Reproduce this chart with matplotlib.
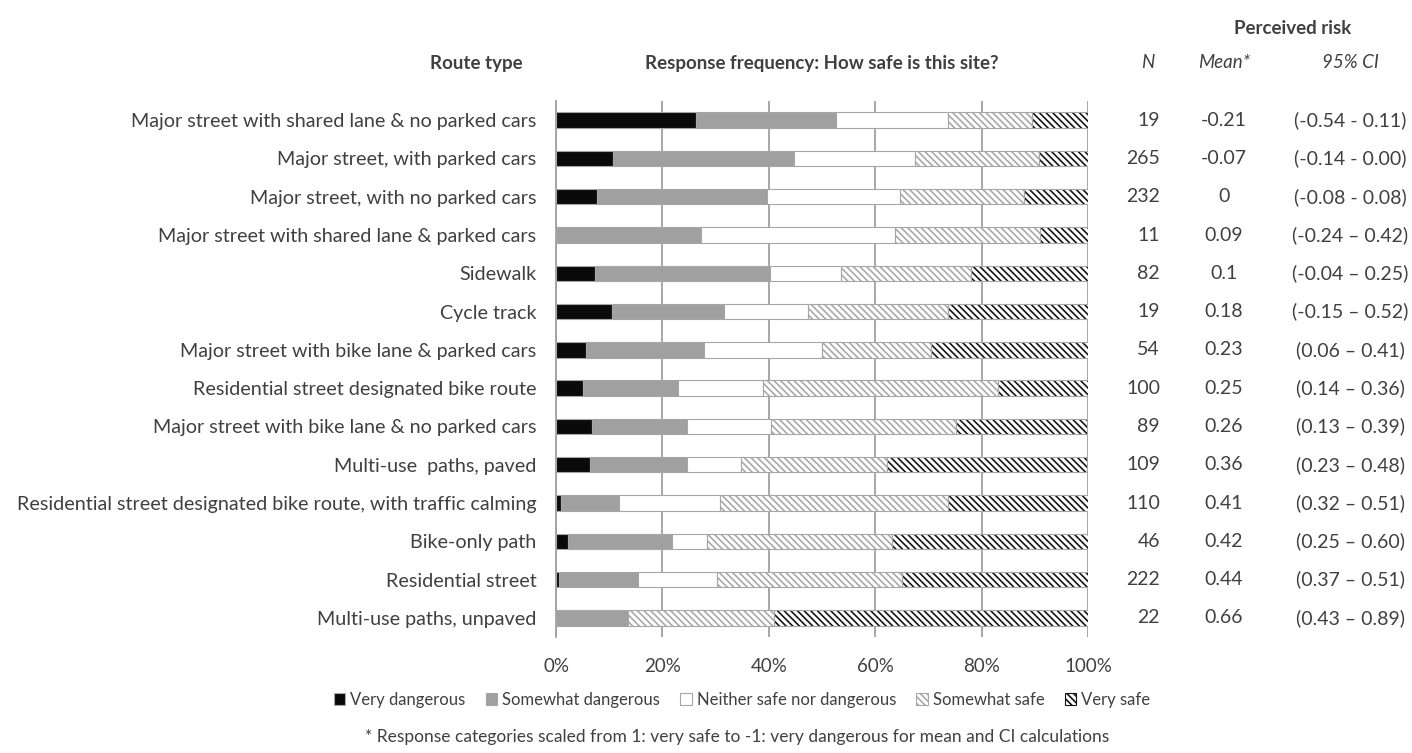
import matplotlib
matplotlib.use("Agg")
import matplotlib.pyplot as plt
import matplotlib.transforms as mtransforms
import numpy as np

plt.rcParams["font.family"] = ["Lato", "DejaVu Sans"]
plt.rcParams["hatch.linewidth"] = 1.2

# Route types, top to bottom
routes = [
    "Major street with shared lane & no parked cars",
    "Major street, with parked cars",
    "Major street, with no parked cars",
    "Major street with shared lane & parked cars",
    "Sidewalk",
    "Cycle track",
    "Major street with bike lane & parked cars",
    "Residential street designated bike route",
    "Major street with bike lane & no parked cars",
    "Multi-use  paths, paved",
    "Residential street designated bike route, with traffic calming",
    "Bike-only path",
    "Residential street",
    "Multi-use paths, unpaved",
]

# Response shares (%) per route
very_dangerous = [26.3, 10.8, 7.8, 0.0, 7.3, 10.5, 5.6, 5.0, 6.7, 6.4, 0.9, 2.2, 0.5, 0.0]
somewhat_dangerous = [26.3, 33.9, 31.9, 27.3, 32.9, 21.1, 22.2, 18.0, 18.0, 18.3, 10.9, 19.6, 14.9, 13.6]
neither = [21.1, 22.8, 25.0, 36.4, 13.4, 15.8, 22.2, 16.0, 15.7, 10.1, 19.1, 6.5, 14.9, 0.0]
somewhat_safe = [15.8, 23.2, 23.2, 27.3, 24.4, 26.3, 20.4, 44.0, 34.8, 27.5, 42.7, 34.8, 34.7, 27.3]
very_safe = [10.5, 9.3, 12.1, 9.1, 22.0, 26.3, 29.6, 17.0, 24.7, 37.6, 26.4, 37.0, 35.1, 59.1]

n_obs = ["19", "265", "232", "11", "82", "19", "54", "100", "89", "109", "110", "46", "222", "22"]
means = ["-0.21", "-0.07", "0", "0.09", "0.1", "0.18", "0.23", "0.25", "0.26", "0.36", "0.41", "0.42", "0.44", "0.66"]
ci = ["(-0.54 - 0.11)", "(-0.14 - 0.00)", "(-0.08 - 0.08)", "(-0.24 \u2013 0.42)", "(-0.04 \u2013 0.25)",
      "(-0.15 \u2013 0.52)", "(0.06 \u2013 0.41)", "(0.14 \u2013 0.36)", "(0.13 \u2013 0.39)", "(0.23 \u2013 0.48)",
      "(0.32 \u2013 0.51)", "(0.25 \u2013 0.60)", "(0.37 \u2013 0.51)", "(0.43 \u2013 0.89)"]

series = [
    ("Very dangerous", very_dangerous, "#0a0a0a", None, None),
    ("Somewhat dangerous", somewhat_dangerous, "#a0a0a0", None, None),
    ("Neither safe nor dangerous", neither, "white", None, None),
    ("Somewhat safe", somewhat_safe, "white", "\\\\\\\\\\", "#a8a8a8"),
    ("Very safe", very_safe, "white", "\\\\\\\\\\", "#151515"),
]

TEXT = "#404040"
EDGE = "#a6a6a6"
W, H = 1412, 753

fig = plt.figure(figsize=(14.12, 7.53), dpi=100)
ax = fig.add_axes([556 / W, 1 - 637 / H, 532 / W, 536 / H])

y = np.arange(len(routes))
left = np.zeros(len(routes))
bar_h = 0.4
for label, vals, color, hatch, hcolor in series:
    vals = np.array(vals)
    if hatch:
        # hatch takes the edge colour, so the outline is drawn on top separately
        ax.barh(y, vals, left=left, height=bar_h, color=color, hatch=hatch,
                edgecolor=hcolor, linewidth=0, zorder=3)
        ax.barh(y, vals, left=left, height=bar_h, fill=False,
                edgecolor=EDGE, linewidth=0.8, zorder=4)
        ax.bar(0, 0, color=color, hatch=hatch, edgecolor=hcolor, linewidth=0.8, label=label)
    else:
        ax.barh(y, vals, left=left, height=bar_h, color=color,
                edgecolor=EDGE, linewidth=0.8, zorder=3, label=label)
    left += vals

ax.set_xlim(0, 100)
ax.set_ylim(len(routes) - 0.5, -0.5)
ax.set_xticks([0, 20, 40, 60, 80, 100])
ax.set_xticklabels(["0%", "20%", "40%", "60%", "80%", "100%"])
ax.set_yticks(y)
ax.set_yticklabels(routes)
ax.tick_params(axis="both", length=0, labelcolor=TEXT)
ax.tick_params(axis="y", pad=14, labelsize=14.2)
ax.tick_params(axis="x", pad=15, labelsize=13.5)
ax.grid(axis="x", color="#a0a0a0", linewidth=1.3, zorder=0)
ax.set_axisbelow(True)
for side in ["top", "right", "bottom"]:
    ax.spines[side].set_visible(False)
ax.spines["left"].set_color("#a0a0a0")
ax.spines["left"].set_linewidth(1.3)


def ftext(x, yy, s, **kw):
    fig.text(x / W, 1 - yy / H, s, color=TEXT, va="center", **kw)


# Column headers
ftext(1293, 28, "Perceived risk", ha="center", fontsize=13.5, fontweight="bold")
ftext(523, 63, "Route type", ha="right", fontsize=13.5, fontweight="bold")
ftext(822, 63, "Response frequency: How safe is this site?", ha="center", fontsize=13.5, fontweight="bold")
ftext(1148, 63, "N", ha="center", fontsize=13.5, style="italic")
ftext(1224, 63, "Mean*", ha="center", fontsize=13.5, style="italic")
ftext(1350, 63, "95% CI", ha="center", fontsize=13.5, style="italic")

# Per-row statistics, aligned with the bars
row_tr = mtransforms.blended_transform_factory(fig.transFigure, ax.transData)
for i in range(len(routes)):
    fig.text(1160 / W, i, n_obs[i], ha="right", va="center", fontsize=14, color=TEXT, transform=row_tr)
    fig.text(1224 / W, i, means[i], ha="center", va="center", fontsize=14, color=TEXT, transform=row_tr)
    fig.text(1350 / W, i, ci[i], ha="center", va="center", fontsize=14, color=TEXT, transform=row_tr)

fig.legend(loc="center", bbox_to_anchor=(742 / W, 1 - 700 / H), ncol=5, frameon=False,
           fontsize=12, handlelength=0.7, handleheight=0.7, handletextpad=0.3,
           columnspacing=1.2, labelcolor=TEXT)

ftext(737, 737, "* Response categories scaled from 1: very safe to -1: very dangerous for mean and CI calculations",
      ha="center", fontsize=12.5)

fig.savefig("out.png", dpi=100)
